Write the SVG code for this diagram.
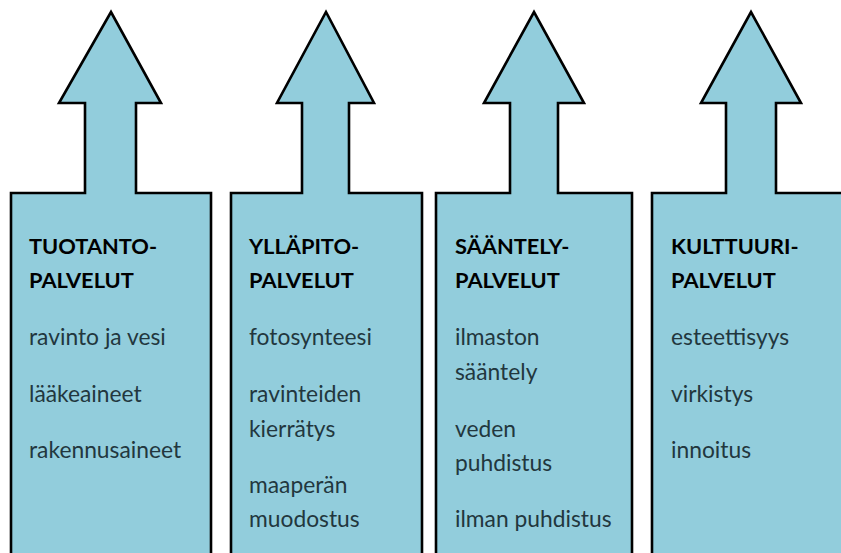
<svg xmlns="http://www.w3.org/2000/svg" width="841" height="553" viewBox="0 0 841 553">
<style>
.arrow{fill:#92cddc;stroke:#000;stroke-width:2.6;stroke-linejoin:miter}
.h{font-family:Lato,"Liberation Sans",sans-serif;font-weight:bold;font-size:21.8px;fill:#000}
.t{font-family:Lato,"Liberation Sans",sans-serif;font-size:22.8px;fill:#22373e}
</style>
<rect width="841" height="553" fill="#fff"/>
<g id="tuotanto">
<polygon class="arrow" points="11,570 11,193 85,193 85,103 59,103 111,12 161,103 136,103 136,193 211,193 211,570"/>
<text class="h" x="29" y="254">TUOTANTO-</text>
<text class="h" x="29" y="288">PALVELUT</text>
<text class="t" x="29" y="345">ravinto ja vesi</text>
<text class="t" x="29" y="402">lääkeaineet</text>
<text class="t" x="29" y="458">rakennusaineet</text>
</g>
<g id="yllapito">
<polygon class="arrow" points="231,570 231,193 302,193 302,103 277,103 326,12 374,103 349,103 349,193 422,193 422,570"/>
<text class="h" x="249" y="254">YLLÄPITO-</text>
<text class="h" x="249" y="288">PALVELUT</text>
<text class="t" x="249" y="345">fotosynteesi</text>
<text class="t" x="249" y="402">ravinteiden</text>
<text class="t" x="249" y="437">kierrätys</text>
<text class="t" x="249" y="493">maaperän</text>
<text class="t" x="249" y="527">muodostus</text>
</g>
<g id="saantely">
<polygon class="arrow" points="436,570 436,193 510,193 510,103 484,103 534,12 584,103 558,103 558,193 632,193 632,570"/>
<text class="h" x="455" y="254">SÄÄNTELY-</text>
<text class="h" x="455" y="288">PALVELUT</text>
<text class="t" x="455" y="345">ilmaston</text>
<text class="t" x="455" y="380">sääntely</text>
<text class="t" x="455" y="437">veden</text>
<text class="t" x="455" y="471">puhdistus</text>
<text class="t" x="455" y="527">ilman puhdistus</text>
</g>
<g id="kulttuuri">
<polygon class="arrow" points="652,570 652,193 726,193 726,103 701,103 751,12 801,103 776,103 776,193 850,193 850,570"/>
<text class="h" x="671" y="254">KULTTUURI-</text>
<text class="h" x="671" y="288">PALVELUT</text>
<text class="t" x="671" y="345">esteettisyys</text>
<text class="t" x="671" y="402">virkistys</text>
<text class="t" x="671" y="458">innoitus</text>
</g>
<g id="connectors"/>
</svg>
